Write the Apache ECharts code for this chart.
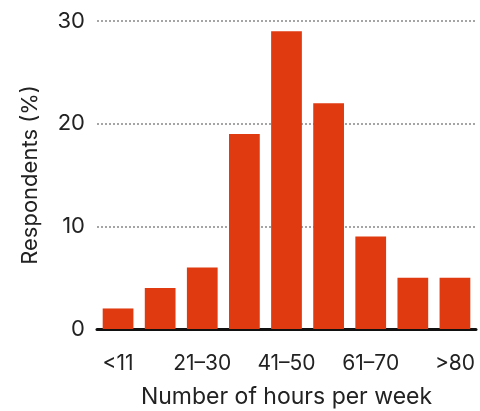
<!DOCTYPE html>
<html>
<head>
<meta charset="utf-8">
<script src="https://cdn.jsdelivr.net/npm/echarts@6/dist/echarts.min.js"></script>
<style>
  html, body { margin: 0; padding: 0; background: #fff; }
  #chart { width: 480px; height: 411px; }
</style>
</head>
<body>
<div id="chart"></div>
<script>
// hours-per-week bins and share of respondents (%)
const categories = ['<11', '11–20', '21–30', '31–40', '41–50', '51–60', '61–70', '71–80', '>80'];
const respondents = [2, 4, 6, 19, 29, 22, 9, 5, 5];
const yTicks = [0, 10, 20, 30];

const chart = echarts.init(document.getElementById('chart'));
const font = 'Inter, "Noto Sans", sans-serif';

chart.setOption({
  animation: false,
  grid: { left: 97, right: 4, top: 21, bottom: 82, outerBoundsMode: 'none', containLabel: false },
  xAxis: {
    type: 'category',
    data: categories,
    name: 'Number of hours per week',
    nameLocation: 'middle',
    nameGap: 57,
    nameTextStyle: { fontFamily: font, fontSize: 23, color: '#222' },
    axisLine: { lineStyle: { color: '#111', width: 3 } },
    axisTick: { alignWithLabel: true, length: 9, lineStyle: { color: '#999', width: 1.5 } },
    axisLabel: { interval: 1, margin: 24, fontFamily: font, fontSize: 21, color: '#222' }
  },
  yAxis: {
    type: 'value',
    min: yTicks[0],
    max: yTicks[yTicks.length - 1],
    interval: 10,
    name: 'Respondents (%)',
    nameLocation: 'middle',
    nameGap: 56,
    nameTextStyle: { fontFamily: font, fontSize: 22, color: '#222' },
    axisLine: { show: false },
    axisTick: { show: false },
    axisLabel: { margin: 12, fontFamily: font, fontSize: 22, color: '#222' },
    splitLine: { lineStyle: { color: '#888', type: [2, 2], width: 1.5 } }
  },
  series: [{
    type: 'bar',
    data: respondents,
    barCategoryGap: '27%',
    itemStyle: { color: '#df3a10' }
  }]
});
</script>
</body>
</html>
